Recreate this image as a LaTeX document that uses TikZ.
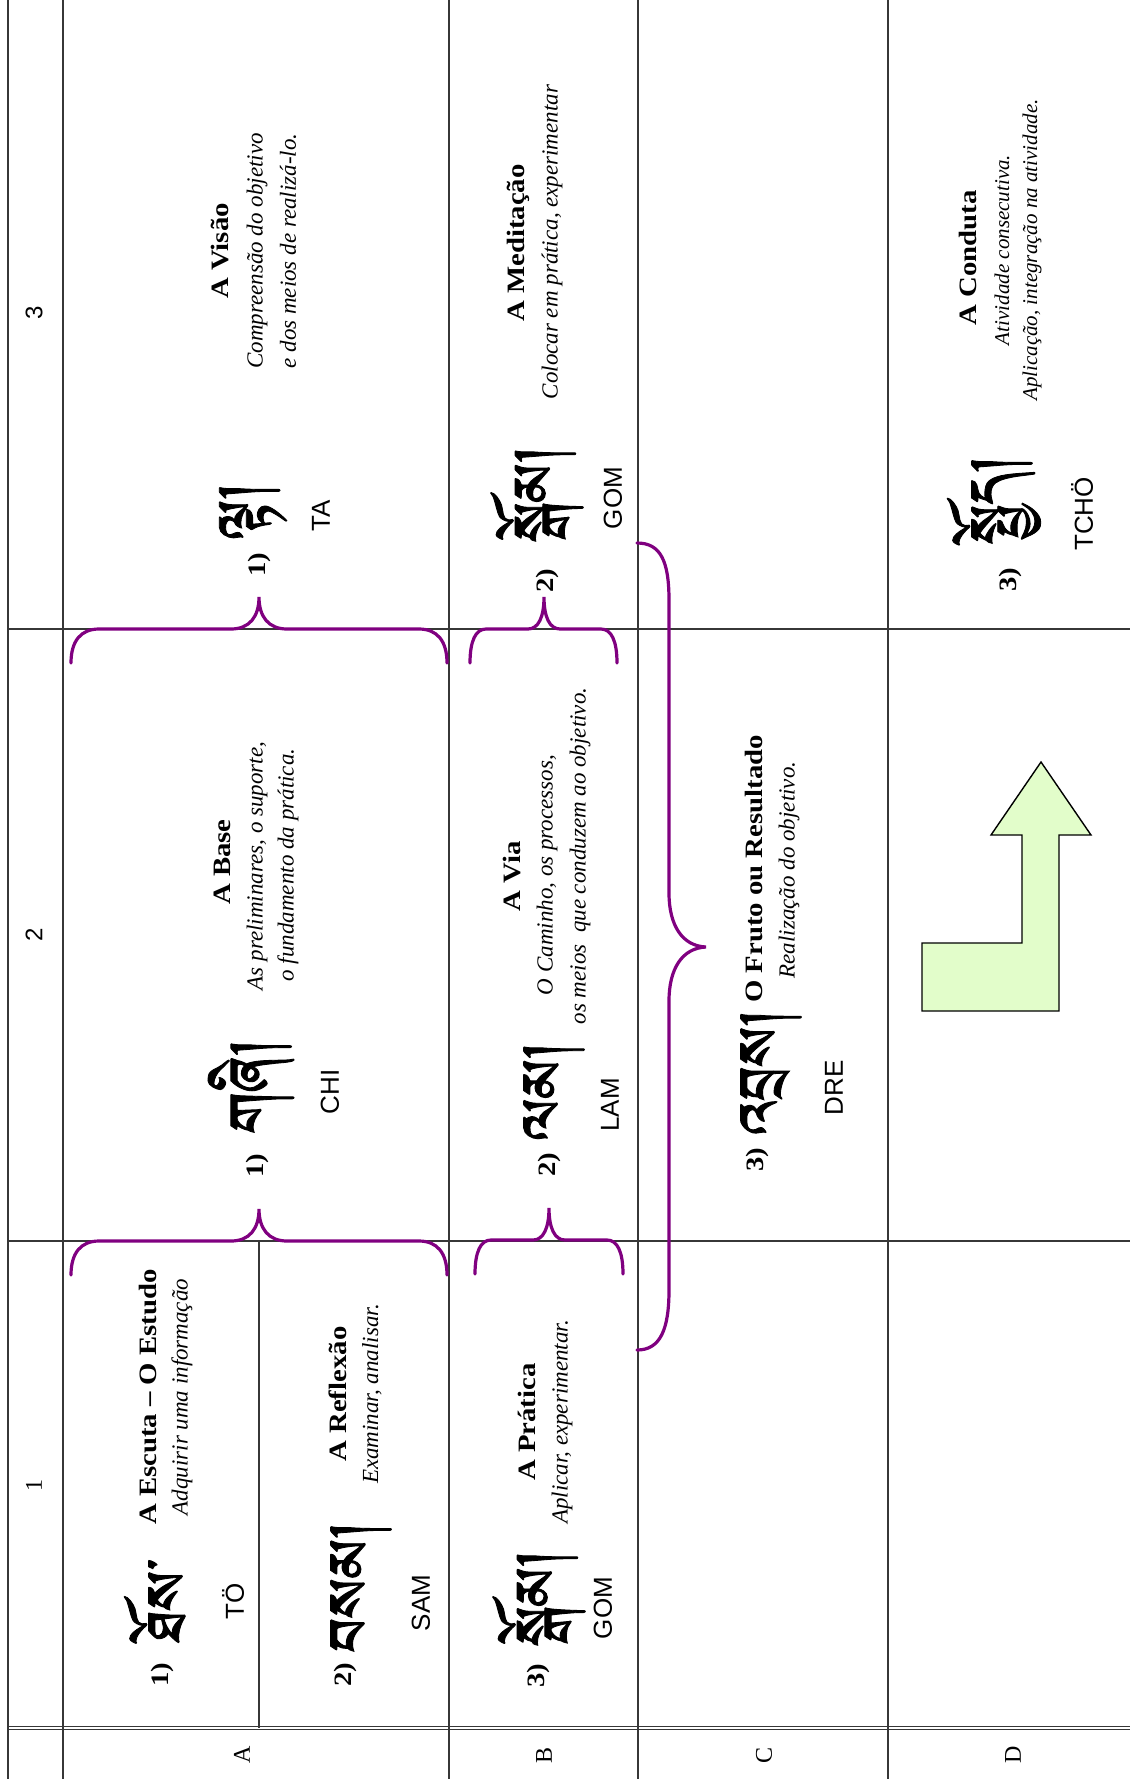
\documentclass[tikz,border=0pt]{standalone}
\usepackage{fontspec}
\setmainfont{Liberation Serif}
\newfontfamily\ttlfont[FakeStretch=1.15]{Liberation Serif}
\newfontfamily\trfont{Liberation Sans}
\IfFontExistsTF{Jomolhari}{\newfontfamily\tibfont[Script=Tibetan,FakeBold=1.2]{Jomolhari}}{%
  \IfFontExistsTF{Tibetan Machine Uni}{\newfontfamily\tibfont[Script=Tibetan,FakeBold=1.2]{Tibetan Machine Uni}}{%
    \newfontfamily\tibfont{DejaVu Sans}}}
\definecolor{bracepurple}{RGB}{128,0,128}
\definecolor{arrowgreen}{RGB}{226,253,202}
\definecolor{gridgray}{RGB}{55,55,55}
\newcommand\hbraceup[5]{%
  \draw[purplebrace] (#1,#4+34) .. controls (#1,#4+12) and (#1+0.35*#5,#4) .. (#1+#5,#4)
    -- (#3-#5,#4) .. controls (#3-0.35*#5,#4) and (#3,#4-12) .. (#3,#4-32)
    .. controls (#3,#4-12) and (#3+0.35*#5,#4) .. (#3+#5,#4)
    -- (#2-#5,#4) .. controls (#2-0.35*#5,#4) and (#2,#4+12) .. (#2,#4+34);}
\begin{document}
\begin{tikzpicture}[x=0.5pt,y=-0.5pt,
  grid/.style={draw=gridgray,line width=0.55pt},
  purplebrace/.style={draw=bracepurple,line width=1.6pt,line cap=round},
  arrowshape/.style={draw=black,fill=arrowgreen,line width=0.7pt,line join=miter},
  rt/.style={rotate=90,inner sep=0pt},
  ttl/.style={rt,font=\ttlfont\bfseries\fontsize{12.5}{14}\selectfont},
  itl/.style={rt,font=\itshape\fontsize{11.5}{13}\selectfont},
  itlsmall/.style={rt,font=\itshape\fontsize{10.5}{12}\selectfont},
  num/.style={rt,font=\ttlfont\bfseries\fontsize{12.5}{14}\selectfont},
  tib/.style={rt,font=\tibfont\fontsize{36}{38}\selectfont},
  tr/.style={rt,font=\trfont\fontsize{13}{15}\selectfont},
  hdrsans/.style={rt,font=\trfont\fontsize{12}{14}\selectfont},
  hdrserif/.style={rt,font=\fontsize{12}{14}\selectfont}]
\useasboundingbox (0,0) rectangle (1130,1784);
\fill[white] (0,0) rectangle (1130,1784);

% grid
\draw[grid] (8,0) -- (8,1779);
\draw[grid] (63,0) -- (63,1779);
\draw[grid] (259,1241) -- (259,1728);
\draw[grid] (449,0) -- (449,1779);
\draw[grid] (638,0) -- (638,1779);
\draw[grid] (888,0) -- (888,1779);
\draw[grid] (8,629) -- (1130,629);
\draw[grid] (8,1241) -- (1130,1241);
\draw[grid] (8,1726.5) -- (1130,1726.5);
\draw[grid] (8,1729.5) -- (1130,1729.5);

% header numbers and letters
\node[hdrsans] (h3) at (34,313) {3};
\node[hdrsans] (h2) at (34,935) {2};
\node[hdrserif] (h1) at (34,1485) {1};
\node[hdrserif] (rA) at (242,1755) {A};
\node[hdrserif] (rB) at (544,1755) {B};
\node[hdrserif] (rC) at (764,1755) {C};
\node[hdrserif] (rD) at (1013,1755) {D};

% cell A1 top
\node[num] (a1n) at (162,1675) {1)};
\node[tib] (a1t) at (163,1601) {ཐོས་};
\node[tr] (a1r) at (233,1601) {TÖ};
\node[ttl] (a1h) at (148,1397) {A Escuta – O Estudo};
\node[itl] (a1i) at (182,1397) {Adquirir uma informação};
% cell A1 bottom
\node[num] (a1bn) at (345,1675) {2)};
\node[tib] (a1bt) at (361,1587) {བསམ།};
\node[tr] (a1br) at (421,1603) {SAM};
\node[ttl] (a1bh) at (338,1394) {A Reflexão};
\node[itl] (a1bi) at (372,1394) {Examinar, analisar.};
% cell B1
\node[num] (b1n) at (538,1676) {3)};
\node[tib] (b1t) at (539,1598) {སྒོམ།};
\node[tr] (b1r) at (603,1608) {GOM};
\node[ttl] (b1h) at (527,1422) {A Prática};
\node[itl] (b1i) at (562,1422) {Aplicar, experimentar.};

% cell A2
\node[num] (a2n) at (257,1166) {1)};
\node[tib] (a2t) at (251,1086) {གཞི།};
\node[tr] (a2r) at (330,1092) {CHI};
\node[ttl] (a2h) at (222,862) {A Base};
\node[itl] (a2i) at (257,866) {As preliminares, o suporte,};
\node[itl] (a2j) at (288,865) {o fundamento da prática.};
% cell B2
\node[num] (b2n) at (549,1165) {2)};
\node[tib] (b2t) at (554,1091) {ལམ།};
\node[tr] (b2r) at (610,1105) {LAM};
\node[ttl] (b2h) at (512,876) {A Via};
\node[itl] (b2i) at (547,875) {O Caminho, os processos,};
\node[itl] (b2j) at (580,856) {os meios\enspace que conduzem ao objetivo.};
% cell C2
\node[num] (c2n) at (757,1160) {3)};
\node[tib] (c2t) at (771,1072) {འབྲས།};
\node[tr] (c2r) at (834,1088) {DRE};
\node[ttl] (c2h) at (754,869) {O Fruto ou Resultado};
\node[itl] (c2i) at (789,870) {Realização do objetivo.};

% cell A3
\node[num] (a3n) at (259,565) {1)};
\node[tib] (a3t) at (253,511) {ལྟ།};
\node[tr] (a3r) at (321,516) {TA};
\node[ttl] (a3h) at (220,251) {A Visão};
\node[itl] (a3i) at (257,251) {Compreensão do objetivo};
\node[itl] (a3j) at (288,251) {e dos meios de realizá-lo.};
% cell B3
\node[num] (b3n) at (547,581) {2)};
\node[tib] (b3t) at (537,494) {སྒོམ།};
\node[tr] (b3r) at (613,498) {GOM};
\node[ttl] (b3h) at (518,243) {A Meditação};
\node[itl] (b3i) at (552,242) {Colocar em prática, experimentar};
% cell D3
\node[num] (d3n) at (1010,580) {3)};
\node[tib] (d3t) at (994,500) {སྤྱོད།};
\node[tr] (d3r) at (1082,514) {TCHÖ};
\node[ttl] (d3h) at (968,258) {A Conduta};
\node[itlsmall] (d3i) at (1002,250) {Atividade consecutiva.};
\node[itlsmall] (d3j) at (1032,250) {Aplicação, integração na atividade.};

% braces
\hbraceup{71}{447}{259}{629}{28}
\hbraceup{470}{617}{544}{629}{16}
\hbraceup{71}{447}{259}{1241}{28}
\hbraceup{475}{623}{549}{1240}{16}
\draw[purplebrace] (637,543) .. controls (660,543) and (669,560) .. (669,600)
  -- (669,893) .. controls (669,925) and (682,946) .. (706,947)
  .. controls (682,948) and (669,969) .. (669,1001)
  -- (669,1290) .. controls (669,1330) and (660,1350) .. (637,1350);

% arrow
\draw[arrowshape] (1041,762) -- (1091,835) -- (1059,835) -- (1059,1011)
  -- (922,1011) -- (922,943) -- (1022,943) -- (1022,835) -- (991,835) -- cycle;
\end{tikzpicture}
\end{document}
